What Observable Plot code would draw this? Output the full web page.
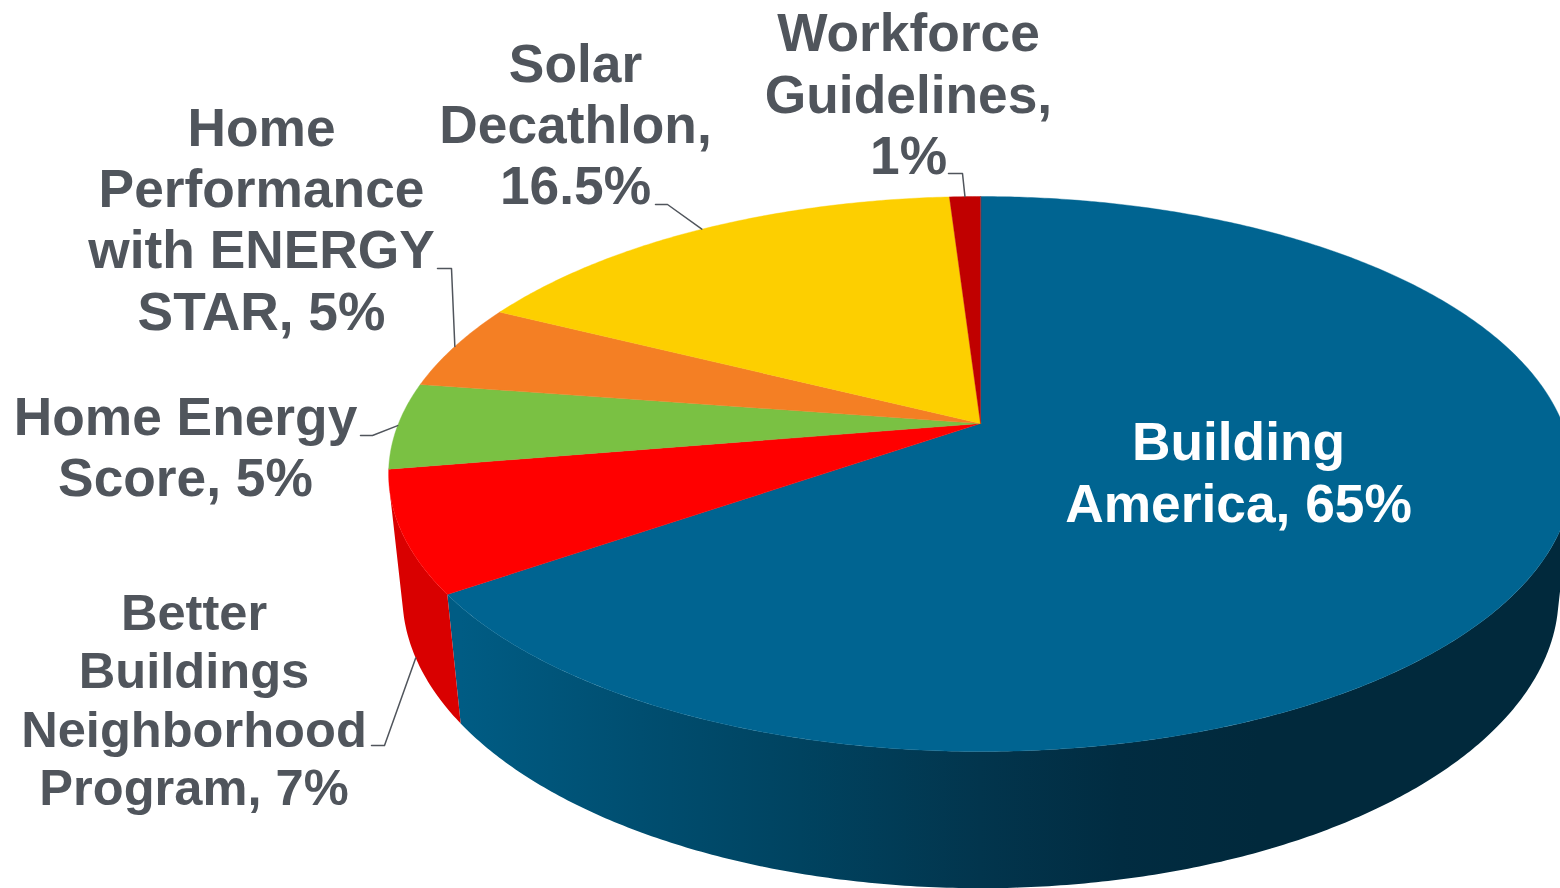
<!DOCTYPE html>
<html>
<head>
<meta charset="utf-8">
<script src="https://cdn.jsdelivr.net/npm/d3@7"></script>
<script src="https://cdn.jsdelivr.net/npm/@observablehq/plot@0.6"></script>
<style>
html,body{margin:0;padding:0;background:#fff;overflow:hidden}
svg{display:block}
</style>
</head>
<body>
<div id="chart"></div>
<script>
// ---- data, clockwise from 12 o'clock ----
const programs = ["Building America", "Better Buildings Neighborhood Program", "Home Energy Score", "Home Performance with ENERGY STAR", "Solar Decathlon", "Workforce Guidelines"];
const shares = [65, 7, 5, 5, 16.5, 1];
const labelTexts = ["Building\nAmerica, 65%", "Better\nBuildings\nNeighborhood\nProgram, 7%", "Home Energy\nScore, 5%", "Home\nPerformance\nwith ENERGY\nSTAR, 5%", "Solar\nDecathlon,\n16.5%", "Workforce\nGuidelines,\n1%"];

// ---- styles ----
const topColors = ["#006491", "#ff0000", "#7ac143", "#f47f24", "#fdcf00", "#c00000"];
const redWall = "#d90000";
const wallShadeX = [460, 640, 800, 980, 1120, 1260];
const wallShade = ["#005c84", "#004e70", "#004360", "#02354d", "#012c41", "#01293c"];
const textColor = "#50555c";

// ---- layout (annotation placement, in chart units) ----
const labelX = [1238, 193.5, 185, 261, 575, 908];
const labelY = [471, 698.5, 445.5, 217.5, 123, 92.5];
const labelSize = [53.3, 50.6, 53.3, 53.3, 53.3, 53.3];
const labelLead = [1.15, 1.155, 1.15, 1.15, 1.15, 1.155];
const labelFill = ["#ffffff", textColor, textColor, textColor, textColor, textColor];
const leaderElbows = {
  "Better Buildings Neighborhood Program": {depth: 1, pts: [[384, 745], [371, 745]]},
  "Home Energy Score": {depth: 0, pts: [[372, 435], [360, 435]]},
  "Home Performance with ENERGY STAR": {depth: 0, pts: [[451, 268], [437, 268]]},
  "Solar Decathlon": {depth: 0, pts: [[667, 204], [655, 204]]},
  "Workforce Guidelines": {depth: 0, pts: [[962, 173], [948, 173]]}
};

// ---- perspective disc ----
const apex = {x: 980, y: 423};
const disc = {k: 0.182, wide: 582, deep: 268.3, wallDrop: 122.5, wallShrink: 0.023};
function rim(deg, z = 0) {
  const a = deg * Math.PI / 180, s = Math.sin(a), c = Math.cos(a);
  const w = 1 + disc.k * c + disc.wallShrink * z;
  return {x: apex.x + disc.wide * s / w, y: apex.y + (-disc.deep * c + disc.wallDrop * z) / w};
}

const total = d3.sum(shares);
let run = 0;
const slices = programs.map((name, i) => {
  const start = run / total * 360;
  run += shares[i];
  return {name, start, end: run / total * 360, color: topColors[i], label: labelTexts[i]};
});

// top face polygons
const topPts = slices.flatMap(s => {
  const n = Math.max(4, Math.ceil(s.end - s.start) * 2);
  const pts = [{id: s.name, color: s.color, ...apex}];
  for (let j = 0; j <= n; j++) pts.push({id: s.name, color: s.color, ...rim(s.start + (s.end - s.start) * j / n)});
  return pts;
});

// the wall faces the viewer only between the two silhouette angles
const faces = deg => {
  const a = rim(deg), b = rim(deg + 0.25), c = rim(deg, 1);
  return (b.x - a.x) * (c.y - a.y) - (b.y - a.y) * (c.x - a.x) < 0;
};
let wallFrom = 0, wallTo = 360;
while (!faces(wallFrom)) wallFrom += 0.25;
wallTo = wallFrom;
while (faces(wallTo)) wallTo += 0.25;

// one wall polygon per slice: upper rim forward, lower rim back
function wallPolygon(s) {
  const a0 = Math.max(s.start, wallFrom), a1 = Math.min(s.end, wallTo), n = Math.ceil(a1 - a0) * 2, out = [];
  for (let j = 0; j <= n; j++) out.push(rim(a0 + (a1 - a0) * j / n));
  for (let j = n; j >= 0; j--) out.push(rim(a0 + (a1 - a0) * j / n, 1));
  return out;
}

// leaders
const leaderPts = slices.filter(s => leaderElbows[s.name]).flatMap(s => {
  const e = leaderElbows[s.name];
  const start = rim((s.start + s.end) / 2, e.depth);
  return [start, ...e.pts.map(([x, y]) => ({x, y}))].map(p => ({id: s.name, ...p}));
});

const labels = slices.map((s, i) => ({text: s.label, x: labelX[i], y: labelY[i], size: labelSize[i], lead: labelLead[i], fill: labelFill[i]}));

// horizontal gradient of the blue wall, placed through the x scale
const wallGradient = (index, {x}) => {
  const defs = d3.create("svg:defs");
  const g = defs.append("linearGradient").attr("id", "wallShade").attr("gradientUnits", "userSpaceOnUse")
    .attr("x1", x(wallShadeX[0])).attr("x2", x(wallShadeX[wallShadeX.length - 1])).attr("y1", 0).attr("y2", 0);
  wallShadeX.forEach((v, i) => g.append("stop")
    .attr("offset", (v - wallShadeX[0]) / (wallShadeX[wallShadeX.length - 1] - wallShadeX[0]))
    .attr("stop-color", wallShade[i]));
  return defs.node();
};

const chart = Plot.plot({
  width: 1560, height: 888,
  margin: 0,
  x: {domain: [0, 1560], axis: null},
  y: {domain: [888, 0], axis: null},
  style: {background: "#fff", overflow: "hidden"},
  marks: [
    wallGradient,
    Plot.line(wallPolygon(slices[0]), {x: "x", y: "y", fill: "url(#wallShade)", stroke: "none", curve: "linear-closed"}),
    Plot.line(wallPolygon(slices[1]), {x: "x", y: "y", fill: redWall, stroke: "none", curve: "linear-closed"}),
    Plot.line(topPts, {x: "x", y: "y", z: "id", fill: "color", stroke: "color", strokeWidth: 0.4, curve: "linear-closed"}),
    Plot.line(leaderPts, {x: "x", y: "y", z: "id", stroke: textColor, strokeWidth: 1.5, fill: "none"}),
    ...labels.map(l => Plot.text([l], {
      x: "x", y: "y", text: "text", fill: l.fill, fontSize: l.size, lineHeight: l.lead,
      fontFamily: "'Liberation Sans', Arial, sans-serif", fontWeight: "bold", textAnchor: "middle", lineAnchor: "middle"
    }))
  ]
});
document.getElementById("chart").append(chart);
</script>
</body>
</html>
